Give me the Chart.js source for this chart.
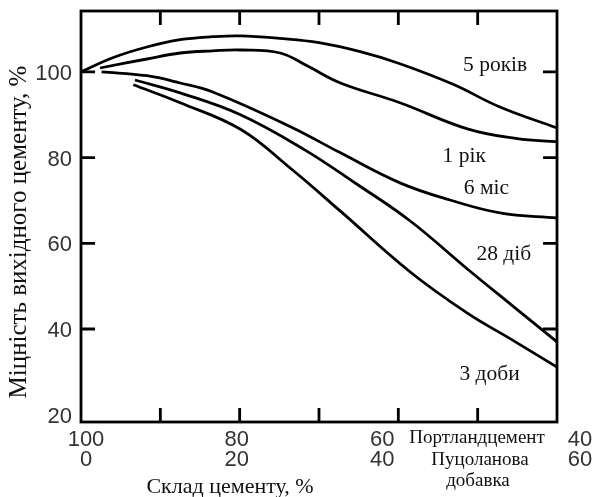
<!DOCTYPE html>
<html>
<head>
<meta charset="utf-8">
<script src="https://cdn.jsdelivr.net/npm/chart.js@4.4.1/dist/chart.umd.min.js"></script>
<style>
  html, body { margin: 0; padding: 0; background: #fff; }
</style>
</head>
<body>
<canvas id="chart" width="596" height="497"></canvas>
<script>
// x = вміст пуцоланової добавки, % (0 = чистий портландцемент)
let fiveYearsX = [0, 4, 8.3, 12.5, 16.6, 20.1, 25, 30, 35.2, 40.2, 46.9, 52.8, 60];
let fiveYearsY = [100, 103.3, 105.8, 107.5, 108.2, 108.4, 107.8, 106.8, 104.7, 101.9, 97.1, 91.8, 86.9];

let oneYearX = [2.4, 8.3, 12.5, 16.6, 20.1, 25.1, 28.5, 32.7, 40.2, 48.7, 55, 60];
let oneYearY = [100.9, 103.0, 104.4, 104.9, 105.1, 104.4, 101.4, 97.4, 92.8, 86.7, 84.4, 83.7];

let sixMonthsX = [2.6, 8.3, 12.5, 16.6, 26.4, 32.7, 40.2, 46.5, 52.8, 60];
let sixMonthsY = [100, 99.1, 97.4, 95.3, 87.2, 81.1, 74.1, 70.1, 67.1, 65.9];

let days28X = [6.8, 12.5, 20.1, 28.2, 34.6, 41.5, 48.7, 54.4, 60];
let days28Y = [98.1, 95.1, 90.0, 81.8, 74.0, 65.2, 54.0, 45.4, 37.0];

let days3X = [6.6, 12.5, 20.1, 26.4, 32.7, 41.5, 48.7, 54.4, 60];
let days3Y = [97.0, 92.8, 86.6, 77.5, 67.5, 53.3, 43.7, 37.4, 31.1];

let seriesNames = ["5 років", "1 рік", "6 міс", "28 діб", "3 доби"];
// where each name sits, in data units (x, y)
let nameX = [52.2, 48.3, 51.1, 53.3, 51.5];
let nameY = [101.6, 80.2, 72.9, 57.3, 29.3];

let yTickLabels = [20, 40, 60, 80, 100];
let yTickMarks = [40, 60, 80, 100];
let xTickMarks = [10, 20, 30, 40, 50];
let xTickValues = [0, 20, 40, 60];
let xCementLabels = ["100", "80", "60", "40"];
let xAdditiveLabels = ["0", "20", "40", "60"];

let yTitle = "Міцність вихідного цементу, %";
let xTitle = "Склад цементу, %";
let legendLines = ["Портландцемент", "Пуцоланова", "добавка"];

function toPoints(xs, ys) {
  return xs.map((x, i) => ({ x: x, y: ys[i] }));
}

const ink = "#000";
const serif = '"Liberation Serif", "Times New Roman", serif';
const sans = '"Liberation Sans", Arial, sans-serif';

const decor = {
  id: "decor",
  afterDraw(chart) {
    const ctx = chart.ctx;
    const a = chart.chartArea;
    const xs = chart.scales.x;
    const ys = chart.scales.y;
    ctx.save();

    // frame
    ctx.strokeStyle = ink;
    ctx.lineWidth = 2.8;
    ctx.strokeRect(a.left, a.top, a.right - a.left, a.bottom - a.top);

    // inward ticks
    ctx.beginPath();
    xTickMarks.forEach((v) => {
      const px = xs.getPixelForValue(v);
      ctx.moveTo(px, a.bottom);
      ctx.lineTo(px, a.bottom - 14);
      ctx.moveTo(px, a.top);
      ctx.lineTo(px, a.top + 14);
    });
    yTickMarks.forEach((v) => {
      const py = ys.getPixelForValue(v);
      ctx.moveTo(a.left, py);
      ctx.lineTo(a.left + 14, py);
      ctx.moveTo(a.right, py);
      ctx.lineTo(a.right - 14, py);
    });
    ctx.stroke();

    // y tick labels
    ctx.fillStyle = "#333";
    ctx.font = "22px " + sans;
    ctx.textAlign = "right";
    ctx.textBaseline = "middle";
    yTickLabels.forEach((v) => {
      ctx.fillText(String(v), a.left - 9, ys.getPixelForValue(v) + 2);
    });

    // x tick labels (two rows)
    const xShift = [5, -3, -16, 23];
    ctx.textAlign = "center";
    xTickValues.forEach((v, i) => {
      const px = xs.getPixelForValue(v) + xShift[i];
      ctx.fillText(xCementLabels[i], px, a.bottom + 18);
      ctx.fillText(xAdditiveLabels[i], px, a.bottom + 38);
    });

    // row legend between 60 and 40
    ctx.fillStyle = "#111";
    ctx.font = "19px " + serif;
    ctx.fillText(legendLines[0], 477, a.bottom + 16);
    ctx.fillText(legendLines[1], 480, a.bottom + 38);
    ctx.fillText(legendLines[2], 478, a.bottom + 59);

    // curve names
    ctx.font = "21.5px " + serif;
    seriesNames.forEach((n, i) => {
      ctx.fillText(n, xs.getPixelForValue(nameX[i]), ys.getPixelForValue(nameY[i]));
    });

    // axis titles
    ctx.font = "22px " + serif;
    ctx.fillText(xTitle, 230, a.bottom + 65);
    ctx.save();
    ctx.translate(19, 232);
    ctx.rotate(-Math.PI / 2);
    ctx.font = "25px " + serif;
    ctx.fillText(yTitle, 0, 0);
    ctx.restore();

    ctx.restore();
  },
};

const lineStyle = {
  borderColor: ink,
  borderWidth: 2.8,
  pointRadius: 0,
  fill: false,
  tension: 0.4,
};

new Chart(document.getElementById("chart"), {
  type: "line",
  data: {
    datasets: [
      { label: seriesNames[0], data: toPoints(fiveYearsX, fiveYearsY), ...lineStyle },
      { label: seriesNames[1], data: toPoints(oneYearX, oneYearY), ...lineStyle },
      { label: seriesNames[2], data: toPoints(sixMonthsX, sixMonthsY), ...lineStyle },
      { label: seriesNames[3], data: toPoints(days28X, days28Y), ...lineStyle },
      { label: seriesNames[4], data: toPoints(days3X, days3Y), ...lineStyle },
    ],
  },
  options: {
    responsive: false,
    animation: false,
    layout: { padding: { left: 81, right: 39, top: 11, bottom: 75 } },
    scales: {
      x: { type: "linear", min: 0, max: 60, display: false },
      y: { min: 18.3, max: 114.2, display: false },
    },
    plugins: {
      legend: { display: false },
      tooltip: { enabled: false },
    },
  },
  plugins: [decor],
});
</script>
</body>
</html>
